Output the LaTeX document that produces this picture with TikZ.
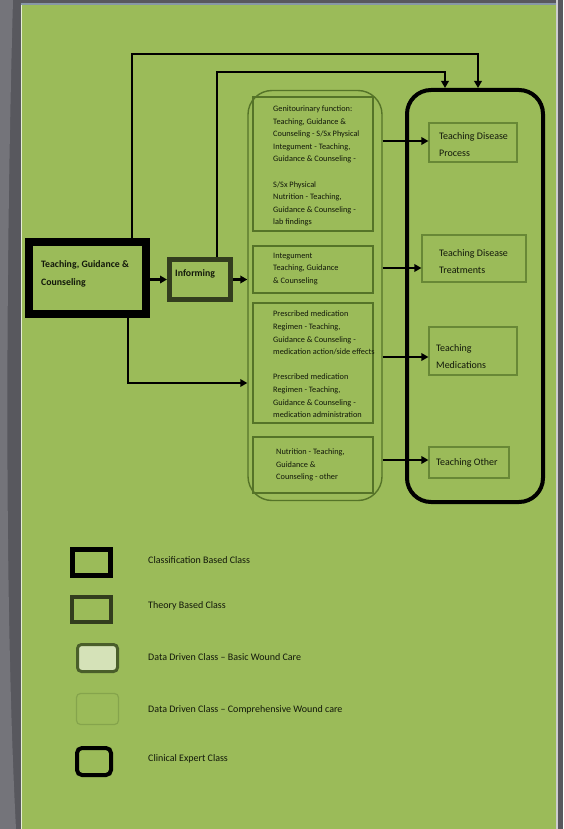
\documentclass[tikz,border=0pt]{standalone}
\usepackage{fontspec}
\setmainfont{Carlito}
\usetikzlibrary{arrows.meta}

\definecolor{panel}{HTML}{9BBB59}
\definecolor{frameGray}{HTML}{58585E}
\definecolor{frameLight}{HTML}{74747A}
\definecolor{topLine}{HTML}{8797A6}
\definecolor{dataLine}{HTML}{557328}
\definecolor{dataThin}{HTML}{688836}
\definecolor{theoryLine}{HTML}{333D1E}
\definecolor{basicFill}{HTML}{D5E2B8}
\definecolor{basicLine}{HTML}{4A5E2A}
\definecolor{compLine}{HTML}{85A44C}
\definecolor{ink}{HTML}{12180A}

\begin{document}
\begin{tikzpicture}[x=1pt,y=-1pt,
  conn/.style={line width=2.6pt, draw=black, -{Triangle[length=7pt,width=7.5pt]}},
  txt/.style={anchor=west, inner sep=0pt, align=left, text=ink},
  midtxt/.style={txt, font=\fontsize{8.3}{12.6}\selectfont},
  righttxt/.style={txt, font=\fontsize{10}{17}\selectfont},
  legtxt/.style={txt, font=\fontsize{10}{12}\selectfont},
  boldtxt/.style={txt, font=\fontsize{9.8}{18}\selectfont\bfseries},
  box/.style={inner sep=0pt, draw},
  classbox/.style={box, draw=black, line width=8pt},
  theorybox/.style={box, draw=theoryLine, line width=5pt},
  databox/.style={box, draw=dataLine, line width=1.4pt},
  rightbox/.style={box, draw=dataThin, line width=1.2pt},
  expertbox/.style={box, draw=black, line width=4pt, rounded corners=24pt}
]
\useasboundingbox (0,0) rectangle (563,829);

% outer frame and green panel
\fill[frameGray] (0,0) rectangle (563,829);
\fill[frameLight] (0,0) -- (13,0) .. controls (6,250) and (4,600) .. (16,829) -- (0,829) -- cycle;
\fill[panel] (21,5) rectangle (556,829);
\draw[topLine, line width=2pt] (21,4) -- (556,4);
\draw[white!75!panel, line width=1pt] (21.5,5) -- (21.5,829);
\draw[white!70!frameGray, line width=1.2pt] (557,0) -- (557,829);

% left-hand class boxes
\node[classbox, minimum width=117pt, minimum height=72pt] (tgc) at (87.5,278) {};
\node[boldtxt] (tgcText) at (41,274) {Teaching, Guidance \&\\Counseling};

\node[theorybox, minimum width=61pt, minimum height=40pt] (inf) at (200,279.5) {};
\node[boldtxt] (infText) at (175,274) {Informing};

% data driven column
\node[databox, rounded corners=24pt, minimum width=134pt, minimum height=410pt] (mid) at (315,295.5) {};
\node[databox, line width=1.1pt, minimum width=120pt, minimum height=134pt] (b1) at (313,164) {};
\node[databox, line width=1.1pt, minimum width=120pt, minimum height=47pt] (b2) at (313,269.5) {};
\node[databox, line width=1.1pt, minimum width=120pt, minimum height=120pt] (b3) at (313,363) {};
\node[databox, line width=1.1pt, minimum width=120pt, minimum height=56pt] (b4) at (313,465) {};

\node[midtxt] (b1Text) at (273,166) {Genitourinary function:\\Teaching, Guidance \&\\Counseling - S/Sx Physical\\Integument - Teaching,\\Guidance \& Counseling -\\[12.6pt]S/Sx Physical\\Nutrition - Teaching,\\Guidance \& Counseling -\\lab findings};
\node[midtxt] (b2Text) at (273,269) {Integument\\Teaching, Guidance\\\& Counseling};
\node[midtxt] (b3Text) at (273,364.5) {Prescribed medication\\Regimen - Teaching,\\Guidance \& Counseling -\\medication action/side effects\\[12.6pt]Prescribed medication\\Regimen - Teaching,\\Guidance \& Counseling -\\medication administration};
\node[midtxt] (b4Text) at (276,465) {Nutrition - Teaching,\\Guidance \&\\Counseling - other};

% clinical expert column
\node[expertbox, minimum width=136pt, minimum height=412pt] (right) at (475,296) {};
\node[rightbox, minimum width=88pt, minimum height=39pt] (r1) at (473,142.5) {};
\node[rightbox, minimum width=104pt, minimum height=47pt] (r2) at (474,258.5) {};
\node[rightbox, minimum width=88pt, minimum height=48pt] (r3) at (473,351) {};
\node[rightbox, minimum width=80pt, minimum height=31pt] (r4) at (469,462.5) {};

\node[righttxt] (r1Text) at (439,144.5) {Teaching Disease\\Process};
\node[righttxt] (r2Text) at (439,261.5) {Teaching Disease\\Treatments};
\node[righttxt] (r3Text) at (436,356.5) {Teaching\\Medications};
\node[righttxt] (r4Text) at (436,463) {Teaching Other};

% connectors
\coordinate (topA) at (132,54);
\coordinate (topB) at (478,54);
\draw[conn] (tgc.north -| topA) -- (topA) -- (topB) -- (right.north -| topB);

\coordinate (midA) at (217,72);
\coordinate (midB) at (445,72);
\draw[conn] (inf.north -| midA) -- (midA) -- (midB) -- (right.north -| midB);

\coordinate (lowA) at (128,383);
\draw[conn] (tgc.south -| lowA) -- (lowA) -- (mid.west |- lowA);

\draw[conn] (tgc.east |- inf) -- (inf.west);
\draw[conn] (inf.east) -- (mid.west |- inf);

\coordinate (a1) at (0,141);
\coordinate (a2) at (0,268);
\coordinate (a3) at (0,357);
\coordinate (a4) at (0,460);
\draw[conn] (mid.east |- a1) -- (r1.west |- a1);
\draw[conn] (mid.east |- a2) -- (r2.west |- a2);
\draw[conn] (mid.east |- a3) -- (r3.west |- a3);
\draw[conn] (mid.east |- a4) -- (r4.west |- a4);

% legend
\node[classbox, line width=5pt, minimum width=38pt, minimum height=26pt] (leg1) at (91.5,562.5) {};
\node[theorybox, line width=4pt, minimum width=39pt, minimum height=25pt] (leg2) at (91.5,609.5) {};
\node[box, draw=basicLine, fill=basicFill, line width=3pt, rounded corners=4pt, minimum width=40pt, minimum height=27pt] (leg3) at (97.5,658) {};
\node[box, draw=compLine, line width=1.2pt, rounded corners=4pt, minimum width=42pt, minimum height=31pt] (leg4) at (97.5,709) {};
\node[box, draw=black, line width=4pt, rounded corners=5pt, minimum width=34pt, minimum height=27pt] (leg5) at (94,761.5) {};

\node[legtxt] (leg1Text) at (148,560) {Classification Based Class};
\node[legtxt] (leg2Text) at (148,606) {Theory Based Class};
\node[legtxt] (leg3Text) at (148,657) {Data Driven Class – Basic Wound Care};
\node[legtxt] (leg4Text) at (148,710) {Data Driven Class – Comprehensive Wound care};
\node[legtxt] (leg5Text) at (148,759) {Clinical Expert Class};
\end{tikzpicture}
\end{document}
